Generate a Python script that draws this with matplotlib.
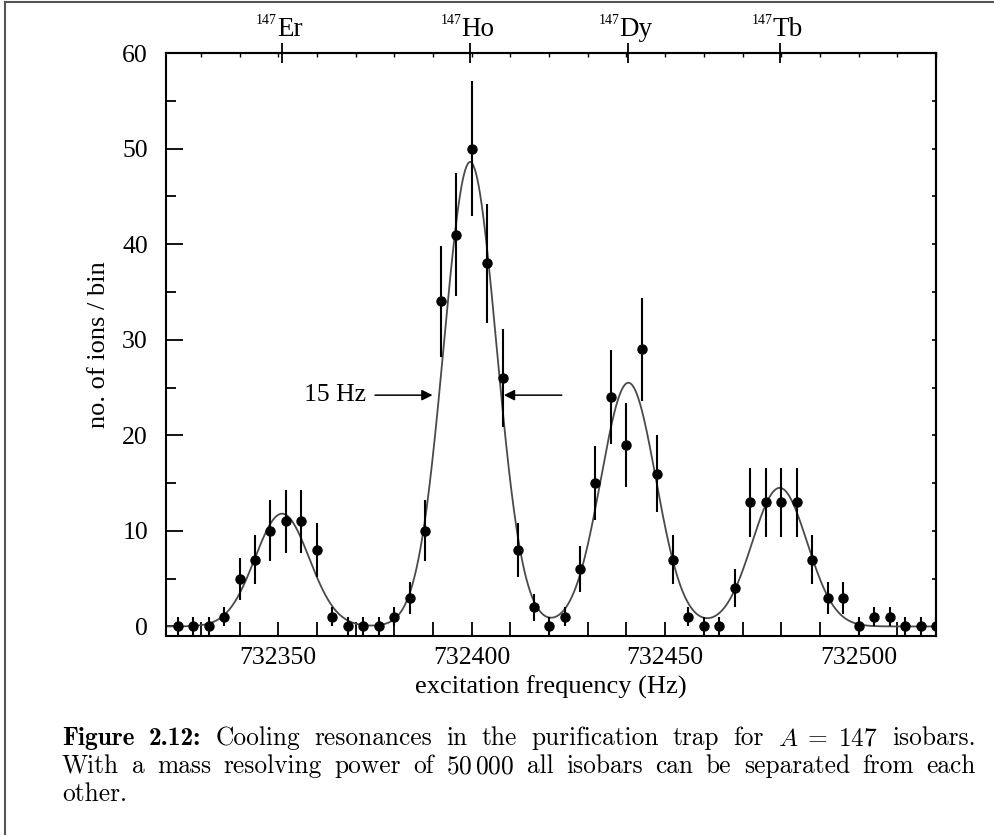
import numpy as np
import matplotlib
matplotlib.use("Agg")
import matplotlib.pyplot as plt
from matplotlib.ticker import MultipleLocator, NullFormatter
from matplotlib.transforms import IdentityTransform
from matplotlib.lines import Line2D

# measured data (excitation frequency in Hz, counts per bin, error)
freq = [732324, 732328, 732332, 732336, 732340, 732344, 732348, 732352, 732356, 732360,
        732364, 732368, 732372, 732376, 732380, 732384, 732388, 732392, 732396, 732400,
        732404, 732408, 732412, 732416, 732420, 732424, 732428, 732432, 732436, 732440,
        732444, 732448, 732452, 732456, 732460, 732464, 732468, 732472, 732476, 732480,
        732484, 732488, 732492, 732496, 732500, 732504, 732508, 732512, 732516, 732520]
counts = [0, 0, 0, 1, 5, 7, 10, 11, 11, 8,
          1, 0, 0, 0, 1, 3, 10, 34, 41, 50,
          38, 26, 8, 2, 0, 1, 6, 15, 24, 19,
          29, 16, 7, 1, 0, 0, 4, 13, 13, 13,
          13, 7, 3, 3, 0, 1, 1, 0, 0, 0]
errors = [1, 1, 1, 1, 2.2, 2.6, 3.2, 3.3, 3.3, 2.8,
          1, 1, 1, 1, 1, 1.7, 3.2, 5.8, 6.4, 7.1,
          6.2, 5.1, 2.8, 1.4, 1, 1, 2.4, 3.9, 4.9, 4.4,
          5.4, 4.0, 2.6, 1, 1, 1, 2.0, 3.6, 3.6, 3.6,
          3.6, 2.6, 1.7, 1.7, 1, 1, 1, 1, 1, 1]

# gaussian fit parameters of the four isobars
isobars = ["Er", "Ho", "Dy", "Tb"]
peak_centers = [732351.0, 732399.6, 732440.5, 732479.6]
peak_heights = [11.8, 48.6, 25.5, 14.5]
peak_sigmas = [7.0, 6.8, 7.1, 7.1]

plt.rcParams["font.family"] = "Liberation Serif"
plt.rcParams["mathtext.fontset"] = "cm"

fig = plt.figure(figsize=(9.94, 8.35), dpi=100)
H = 835
ax = fig.add_axes([166 / 994, 1 - 636 / H, (936 - 166) / 994, (636 - 53) / H])

xf = np.linspace(732321, 732520, 1200)
fit = np.zeros_like(xf)
for c, a, s in zip(peak_centers, peak_heights, peak_sigmas):
    fit += a * np.exp(-(xf - c) ** 2 / (2 * s ** 2))
ax.plot(xf, fit, color="#4a4a4a", lw=1.3, zorder=2)

ax.errorbar(freq, counts, yerr=errors, fmt="o", color="black", ms=6.5,
            elinewidth=1.5, capsize=0, zorder=3, clip_on=True)

ax.set_xlim(732321, 732520)
ax.set_ylim(-1, 60)

for sp in ax.spines.values():
    sp.set_linewidth(1.5)

ax.xaxis.set_major_locator(MultipleLocator(50))
ax.xaxis.set_minor_locator(MultipleLocator(10))
ax.yaxis.set_major_locator(MultipleLocator(10))
ax.yaxis.set_minor_locator(MultipleLocator(5))
ax.tick_params(which="both", direction="in", top=False, right=False, width=1.3)
ax.tick_params(axis="x", which="both", length=10, pad=8, labelsize=18.5)
ax.tick_params(axis="y", which="major", length=12, pad=13, labelsize=18.5)
ax.tick_params(axis="y", which="minor", length=7)
ax.ticklabel_format(axis="x", useOffset=False, style="plain")

ax.set_xlabel("excitation frequency (Hz)", fontsize=19, labelpad=5)
ax.set_ylabel("no. of ions / bin", fontsize=19, labelpad=9)

# right axis: small ticks
sec_r = ax.secondary_yaxis("right")
sec_r.yaxis.set_major_locator(MultipleLocator(5))
sec_r.yaxis.set_major_formatter(NullFormatter())
sec_r.tick_params(direction="in", length=3, width=1.2)
sec_r.spines["right"].set_linewidth(1.5)

# top axis: isobar positions
sec_t = ax.secondary_xaxis("top")
sec_t.set_xticks(peak_centers)
sec_t.xaxis.set_major_formatter(NullFormatter())
sec_t.xaxis.set_minor_locator(MultipleLocator(10))
sec_t.tick_params(which="major", direction="inout", length=14, width=1.3)
sec_t.tick_params(which="minor", direction="in", length=3, width=1.0)
sec_t.spines["top"].set_linewidth(1.5)

renderer = fig.canvas.get_renderer()
for name, c in zip(isobars, peak_centers):
    main = ax.annotate(name, xy=(c, 1), xycoords=("data", "axes fraction"),
                       xytext=(0, 12), textcoords="offset points",
                       ha="left", va="baseline", fontsize=19.5)
    sup = ax.annotate("147", xy=(c, 1), xycoords=("data", "axes fraction"),
                      xytext=(0, 21), textcoords="offset points",
                      ha="right", va="baseline", fontsize=10)
    wm = main.get_window_extent(renderer).width * 72 / fig.dpi
    ws = sup.get_window_extent(renderer).width * 72 / fig.dpi
    shift = (ws - wm) / 2 - 2
    main.set_position((shift, 12))
    sup.set_position((shift, 21))

# FWHM annotation
yh = 24.2
ax.annotate("", xy=(732390.6, yh), xytext=(732374.3, yh),
            arrowprops=dict(arrowstyle="-|>", lw=1.1, color="black", mutation_scale=16))
ax.annotate("", xy=(732407.6, yh), xytext=(732424.0, yh),
            arrowprops=dict(arrowstyle="-|>", lw=1.1, color="black", mutation_scale=16))
ax.text(732372.6, yh, "15 Hz", ha="right", va="center", fontsize=18.5)

# page frame
fig.add_artist(Line2D([5, 5], [0, H - 2], transform=IdentityTransform(), color="#555555", lw=1.5))
fig.add_artist(Line2D([5, 994], [H - 2, H - 2], transform=IdentityTransform(), color="#555555", lw=1.5))

# caption, justified
cap_size = 18.3
x_left, x_right = 62, 976
lines = [
    ([("Figure", "cmb10"), ("2.12:", "cmb10"), ("Cooling", "cmr10"), ("resonances", "cmr10"),
      ("in", "cmr10"), ("the", "cmr10"), ("purification", "cmr10"), ("trap", "cmr10"),
      ("for", "cmr10"), ("$A\\;=\\;147$", "cmr10"), ("isobars.", "cmr10")], 745, True),
    ([("With", "cmr10"), ("a", "cmr10"), ("mass", "cmr10"), ("resolving", "cmr10"),
      ("power", "cmr10"), ("of", "cmr10"), ("$50\\,000$", "cmr10"), ("all", "cmr10"),
      ("isobars", "cmr10"), ("can", "cmr10"), ("be", "cmr10"), ("separated", "cmr10"),
      ("from", "cmr10"), ("each", "cmr10")], 773, True),
    ([("other.", "cmr10")], 801, False),
]
for tokens, ybase, justify in lines:
    objs = [fig.text(0, H - ybase, s, family=f, fontsize=cap_size, va="baseline",
                     transform=IdentityTransform()) for s, f in tokens]
    widths = [o.get_window_extent(renderer).width for o in objs]
    if justify and len(objs) > 1:
        gap = (x_right - x_left - sum(widths)) / (len(objs) - 1)
    else:
        gap = cap_size * 100 / 72 * 0.333
    x = x_left
    for o, w in zip(objs, widths):
        o.set_x(x)
        x += w + gap

fig.savefig("out.png", dpi=100)
